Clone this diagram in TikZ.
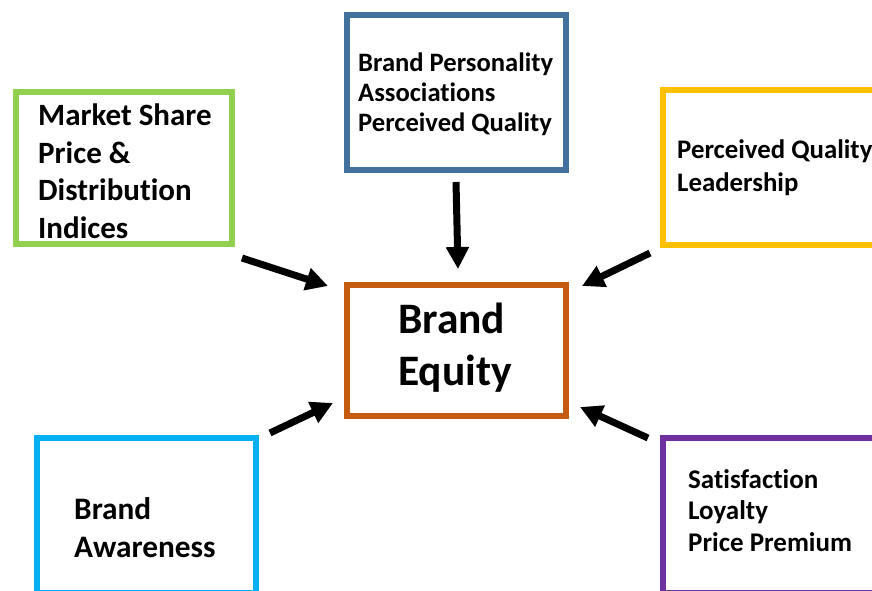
\documentclass[tikz,border=0pt]{standalone}
\usepackage{fontspec}
\setmainfont[Ligatures=NoCommon]{Carlito}
\usetikzlibrary{arrows.meta, positioning}
\definecolor{mktgreen}{HTML}{92D050}
\definecolor{persblue}{HTML}{41719C}
\definecolor{leadyellow}{HTML}{FFC000}
\definecolor{eqorange}{HTML}{C55A11}
\definecolor{awarecyan}{HTML}{00B0F0}
\definecolor{loyalpurple}{HTML}{7030A0}

\begin{document}
\begin{tikzpicture}
	[x=1pt, y=-1pt, ->, >={Triangle[length=22pt,width=22pt]},
	box/.style={draw, line width=6pt, minimum width=219pt, minimum height=155pt, inner sep=0pt},
	lbl/.style={align=left, inner sep=0pt, anchor=base west}]
	\useasboundingbox (0,0) rectangle (872,590);
	\clip (0,0) rectangle (872,590);
	% boxes
	\node (mkt) [box, draw=mktgreen, minimum width=216pt, minimum height=152pt] at (124,168) {};
	\node (pers) [box, draw=persblue] at (456.5,92.5) {};
	\node (lead) [box, draw=leadyellow] at (772.5,167.5) {};
	\node (eq) [box, draw=eqorange, minimum height=131pt] at (456.5,350.5) {};
	\node (aware) [box, draw=awarecyan] at (146.5,515.5) {};
	\node (loyal) [box, draw=loyalpurple] at (772.5,515.5) {};
	% texts (anchored at the baseline of the last line)
	\node (mkttxt) [lbl, font=\bfseries\fontsize{31}{37.5}\selectfont] at (38,238) {Market Share\\Price \&\\Distribution\\Indices};
	\node (perstxt) [lbl, font=\bfseries\fontsize{26.6}{30}\selectfont] at (358,131) {Brand Personality\\Associations\\Perceived Quality};
	\node (leadtxt) [lbl, font=\bfseries\fontsize{26.8}{33}\selectfont] at (677,191) {Perceived Quality\\Leadership};
	\node (eqtxt) [lbl, font=\bfseries\fontsize{43.5}{52}\selectfont] at (398,385) {Brand\\Equity};
	\node (awaretxt) [lbl, font=\bfseries\fontsize{31.3}{38}\selectfont] at (74,557) {Brand\\Awareness};
	\node (loyaltxt) [lbl, font=\bfseries\fontsize{27}{31.5}\selectfont] at (688,551) {Satisfaction\\Loyalty\\Price Premium};
	% arrow ends
	\coordinate (mkt-out) at (242,258);
	\coordinate (eq-nw) at (328,286);
	\coordinate (pers-out) at (456,182);
	\coordinate (eq-n) at (458,269);
	\coordinate (lead-out) at (650,253);
	\coordinate (eq-ne) at (582,286);
	\coordinate (aware-out) at (270,433);
	\coordinate (eq-sw) at (333,403);
	\coordinate (loyal-out) at (648,438);
	\coordinate (eq-se) at (580,407);
	\path[line width=7pt]
	(mkt-out) edge (eq-nw)
	(pers-out) edge (eq-n)
	(lead-out) edge (eq-ne)
	(aware-out) edge (eq-sw)
	(loyal-out) edge (eq-se);
\end{tikzpicture}
\end{document}
